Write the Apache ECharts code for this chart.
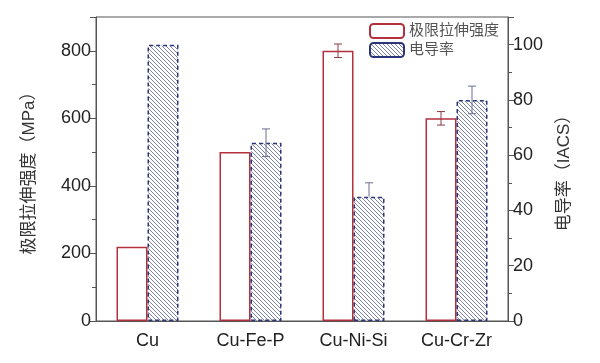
<!DOCTYPE html>
<html><head><meta charset="utf-8">
<script src="https://cdn.jsdelivr.net/npm/echarts@6/dist/echarts.min.js"></script>
<style>html,body{margin:0;padding:0;background:#fff}#c{width:600px;height:363px}</style>
</head><body><div id="c"></div>
<script>
const categories = ['Cu', 'Cu-Fe-P', 'Cu-Ni-Si', 'Cu-Cr-Zr'];
const strength = [220, 500, 800, 600];          // 极限拉伸强度 (MPa)
const strengthErr = [0, 0, 20, 20];
const conductivity = [100, 64.5, 45, 80];      // 电导率 (IACS)
const conductivityErrUp = [0, 5, 5, 5];
const conductivityErrDown = [0, 5, 0, 5];
const leftTicks = { min: 0, max: 900, interval: 200 };
const rightTicks = { min: 0, max: 110, interval: 20 };

const FONT = '"Liberation Sans","Noto Sans CJK SC",Arial,sans-serif';
const BAR_W = 31;
const RED = '#b3303c';
const NAVY = '#2b3577';

// hatch pattern
const pc = document.createElement('canvas');
pc.width = 8; pc.height = 8;
const g = pc.getContext('2d');
g.fillStyle = '#ffffff'; g.fillRect(0, 0, 8, 8);
g.strokeStyle = '#7c82a8'; g.lineWidth = 1;
for (let c = -8; c <= 8; c += 4) { g.beginPath(); g.moveTo(-1, c - 1); g.lineTo(9, c + 9); g.stroke(); }

function errRender(sign, color) {
  return function (params, api) {
    const i = api.value(0), v = api.value(1), up = api.value(2), dn = api.value(3);
    if (!up && !dn) return null;
    const hi = api.coord([i, v + up]);
    const lo = api.coord([i, v - dn]);
    const x = hi[0] + sign * BAR_W / 2;
    const st = { stroke: color, lineWidth: 1 };
    const ch = [
      { type: 'line', shape: { x1: x, y1: hi[1], x2: x, y2: lo[1] }, style: st },
      { type: 'line', shape: { x1: x - 4, y1: hi[1], x2: x + 4, y2: hi[1] }, style: st }
    ];
    if (dn) ch.push({ type: 'line', shape: { x1: x - 4, y1: lo[1], x2: x + 4, y2: lo[1] }, style: st });
    return { type: 'group', children: ch };
  };
}

const axisCommon = {
  type: 'value',
  axisLine: { show: true, lineStyle: { color: '#555', width: 1 } },
  axisTick: { show: true, inside: false, length: 6, lineStyle: { color: '#555' } },
  minorTick: { show: true, splitNumber: 2, length: 4, lineStyle: { color: '#555' } },
  splitLine: { show: false },
  axisLabel: { color: '#222', fontSize: 18, fontFamily: FONT, margin: 5, showMaxLabel: false },
  nameLocation: 'middle',
  nameRotate: 90,
  nameTextStyle: { color: '#333', fontSize: 17, fontFamily: FONT }
};

const chart = echarts.init(document.getElementById('c'), null, { renderer: 'canvas' });
chart.setOption({
  animation: false,
  backgroundColor: '#fff',
  grid: { left: 96, right: 92, top: 17, bottom: 42, show: true, borderColor: '#555', borderWidth: 1, backgroundColor: 'transparent' },
  legend: {
    orient: 'vertical', left: 364, top: 18, itemWidth: 34, itemHeight: 14, itemGap: 3,
    data: ['极限拉伸强度', '电导率'],
    textStyle: { color: '#555', fontSize: 15, fontFamily: FONT }
  },
  xAxis: {
    type: 'category', data: categories,
    axisLine: { lineStyle: { color: '#555' } },
    axisTick: { show: false },
    axisLabel: { color: '#222', fontSize: 18, fontFamily: FONT, margin: 11 }
  },
  yAxis: [
    Object.assign({}, axisCommon, leftTicks, { position: 'left', name: '极限拉伸强度（MPa）', nameGap: 58 }),
    Object.assign({}, axisCommon, rightTicks, { position: 'right', name: '电导率（IACS）', nameGap: 48 })
  ],
  series: [
    { name: '极限拉伸强度', type: 'bar', yAxisIndex: 0, data: strength, barWidth: BAR_W, barGap: '0%',
      itemStyle: { color: '#fff', borderColor: RED, borderWidth: 1.5 } },
    { name: '电导率', type: 'bar', yAxisIndex: 1, data: conductivity, barWidth: BAR_W, barGap: '0%',
      itemStyle: { color: { image: pc, repeat: 'repeat' }, borderColor: NAVY, borderWidth: 1.5, borderType: [4, 3] } },
    { type: 'custom', yAxisIndex: 0, renderItem: errRender(-1, '#8a3a45'), z: 5,
      data: strength.map((v, i) => [i, v, strengthErr[i], strengthErr[i]]), encode: { x: 0, y: 1 } },
    { type: 'custom', yAxisIndex: 1, renderItem: errRender(1, '#6b6f90'), z: 5,
      data: conductivity.map((v, i) => [i, v, conductivityErrUp[i], conductivityErrDown[i]]), encode: { x: 0, y: 1 } }
  ]
});
</script></body></html>
